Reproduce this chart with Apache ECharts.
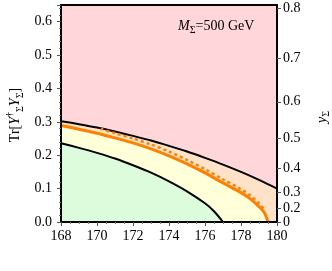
<!DOCTYPE html>
<html>
<head>
<meta charset="utf-8">
<script src="https://cdn.jsdelivr.net/npm/echarts@6/dist/echarts.min.js"></script>
<style>html,body{margin:0;padding:0;background:#fff}#c{width:332px;height:271px}</style>
</head>
<body>
<div id="c"></div>
<script>
// ---- data ----
const topBlackX = [168,169,170,171,172,173,174,175,176,177,178,179,180];
const topBlackY = [0.302,0.293,0.283,0.271,0.258,0.244,0.228,0.211,0.192,0.172,0.150,0.126,0.100];

const orangeX = [168,169,170,171,172,173,174,175,176,177,178,178.5,179,179.3,179.5];
const orangeY = [0.289,0.278,0.266,0.252,0.237,0.219,0.198,0.174,0.147,0.117,0.088,0.070,0.046,0.028,0.0];

const dashedX = [170.2,171,172,173,174,175,176,177,178,178.5,179,179.3];
const dashedY = [0.279,0.266,0.250,0.232,0.211,0.186,0.158,0.128,0.098,0.080,0.056,0.036];

const lowerBlackX = [168,169,170,171,172,173,174,175,176,176.5,177];
const lowerBlackY = [0.236,0.222,0.207,0.190,0.170,0.148,0.122,0.092,0.056,0.032,0.0];

const rightTickLabels = [0,0.2,0.3,0.4,0.5,0.6,0.7,0.8]; // y_Sigma, with Tr = y^2
const rightTickValues = rightTickLabels.map(v => v*v);
// labels are split over two overlaid axes so the crowded ones are all drawn
const rightLabelsA = rightTickValues.filter((v, i) => i % 2 === 0);
const rightLabelsB = rightTickValues.filter((v, i) => i % 2 === 1);

const pairs = (xs, ys) => xs.map((x,i) => [x, ys[i]]);

const FONT = 'Liberation Serif';
const FS = 14;
const fmtRight = v => { const s = Math.sqrt(v); return s < 1e-6 ? '0' : s.toFixed(1); };
const chart = echarts.init(document.getElementById('c'), null, {renderer:'canvas'});
chart.setOption({
  animation: false,
  textStyle: {fontFamily: FONT},
  grid: {left: 61, right: 55, top: 5, bottom: 49, show: true, backgroundColor: '#ffd6da', borderWidth: 0},
  xAxis: [{
    type: 'value', min: 168, max: 180, interval: 2, z: 10,
    axisLine: {show: true, onZero: false, lineStyle: {color: '#000', width: 2}},
    axisTick: {show: true, inside: false, length: 4, lineStyle: {color: '#555'}},
    minorTick: {show: true, splitNumber: 4, length: 2, lineStyle: {color: '#777'}},
    splitLine: {show: false},
    axisLabel: {color: '#000', fontFamily: FONT, fontSize: FS, margin: 7}
  }, {
    type: 'value', position: 'top', min: 168, max: 180, z: 10,
    axisLine: {show: true, onZero: false, lineStyle: {color: '#000', width: 2}},
    axisTick: {show: false}, axisLabel: {show: false}, splitLine: {show: false}
  }],
  yAxis: [{
    type: 'value', min: 0, max: 0.65, interval: 0.1, z: 10,
    axisLine: {show: true, onZero: false, lineStyle: {color: '#000', width: 2}},
    axisTick: {show: true, inside: false, length: 4, lineStyle: {color: '#555'}},
    minorTick: {show: true, splitNumber: 5, length: 2, lineStyle: {color: '#777'}},
    splitLine: {show: false},
    axisLabel: {color: '#000', fontFamily: FONT, fontSize: FS, margin: 9, showMaxLabel: false,
      formatter: v => v.toFixed(1)}
  }, {
    type: 'value', position: 'right', min: 0, max: 0.65, z: 10,
    axisLine: {show: true, onZero: false, lineStyle: {color: '#000', width: 2}},
    axisTick: {show: true, inside: false, length: 4, customValues: rightTickValues, lineStyle: {color: '#555'}},
    splitLine: {show: false},
    axisLabel: {color: '#000', fontFamily: FONT, fontSize: FS, margin: 6, customValues: rightLabelsA,
      showMinLabel: true, showMaxLabel: true, formatter: fmtRight}
  }, {
    type: 'value', position: 'right', min: 0, max: 0.65, z: 10,
    axisLine: {show: false}, axisTick: {show: false}, splitLine: {show: false},
    axisLabel: {color: '#000', fontFamily: FONT, fontSize: FS, margin: 6, customValues: rightLabelsB,
      showMinLabel: true, showMaxLabel: true, formatter: fmtRight}
  }],
  series: [
    {type: 'line', data: pairs(topBlackX, topBlackY), smooth: 0.3, symbol: 'none', z: 2,
     lineStyle: {color: '#000', width: 2}, areaStyle: {color: '#ffe2c8', opacity: 1, origin: 'start'}},
    {type: 'line', data: pairs(orangeX, orangeY), smooth: 0.3, symbol: 'none', z: 3,
     lineStyle: {width: 0}, areaStyle: {color: '#ffffda', opacity: 1, origin: 'start'}},
    {type: 'line', data: pairs(lowerBlackX, lowerBlackY), smooth: 0.3, symbol: 'none', z: 4,
     lineStyle: {color: '#000', width: 2}, areaStyle: {color: '#dcfcdc', opacity: 1, origin: 'start'}},
    {type: 'line', data: pairs(orangeX, orangeY), smooth: 0.3, symbol: 'none', z: 5,
     lineStyle: {color: '#ff8000', width: 3}},
    {type: 'line', data: pairs(dashedX, dashedY), smooth: 0.3, symbol: 'none', z: 5,
     lineStyle: {color: '#ff8000', width: 2.5, type: [3, 3]}}
  ],
  graphic: [
    {type: 'text', x: 15, y: 115, rotation: Math.PI/2, z: 20,
     style: {text: 'Tr[{i|Y}{sup|†}{sub|Σ}{i|Y}{sub|Σ}]', fill: '#000', font: FS + 'px ' + FONT,
       align: 'center', verticalAlign: 'middle',
       rich: {
         i: {fontStyle: 'italic', fontSize: FS, fontFamily: FONT, lineHeight: 20, verticalAlign: 'middle'},
         sub: {fontSize: 10, fontFamily: FONT, verticalAlign: 'bottom', lineHeight: 10},
         sup: {fontSize: 10, fontFamily: FONT, verticalAlign: 'top', lineHeight: 10}
       }}},
    {type: 'text', x: 322, y: 117, rotation: Math.PI/2, z: 20,
     style: {text: '{i|y}{sub|Σ}', fill: '#000', font: FS + 'px ' + FONT,
       align: 'center', verticalAlign: 'middle',
       rich: {
         i: {fontStyle: 'italic', fontSize: FS, fontFamily: FONT, lineHeight: 18, verticalAlign: 'middle'},
         sub: {fontSize: 10, fontFamily: FONT, verticalAlign: 'bottom', lineHeight: 10}
       }}},
    {type: 'text', x: 178, y: 26, z: 20,
     style: {text: '{i|M}{sub|Σ}{n|=500 GeV}', fill: '#000', font: FS + 'px ' + FONT,
       verticalAlign: 'middle',
       rich: {
         i: {fontStyle: 'italic', fontSize: FS, fontFamily: FONT, lineHeight: 18, verticalAlign: 'middle'},
         n: {fontSize: FS, fontFamily: FONT, lineHeight: 18, verticalAlign: 'middle'},
         sub: {fontSize: 10, fontFamily: FONT, verticalAlign: 'bottom', lineHeight: 10}
       }}}
  ]
});
</script>
</body>
</html>
